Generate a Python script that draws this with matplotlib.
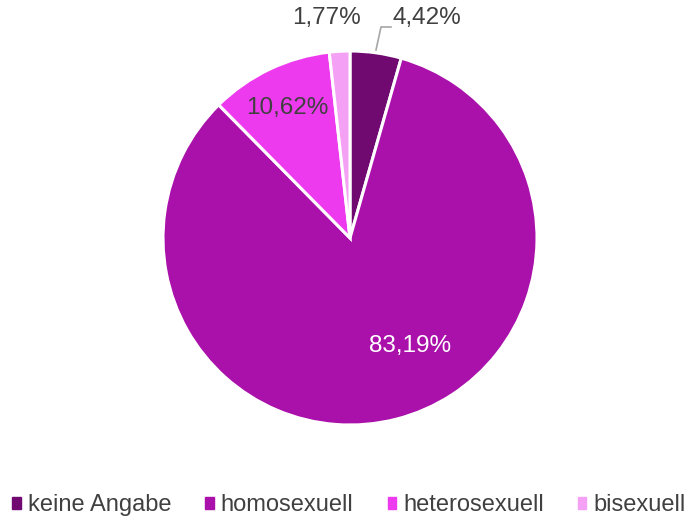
import matplotlib.pyplot as plt
import numpy as np

categories = ['keine Angabe', 'homosexuell', 'heterosexuell', 'bisexuell']
values = [4.42, 83.19, 10.62, 1.77]
colors = ['#700A70', '#AA10AA', '#EE3AEE', '#F4A0F4']
labels = ['4,42%', '83,19%', '10,62%', '1,77%']

plt.rcParams['font.family'] = ['Liberation Sans', 'DejaVu Sans']

W, H = 698, 521
fig = plt.figure(figsize=(W / 100, H / 100), dpi=100)
ax = fig.add_axes([0, 0, 1, 1])

def px(x, y):
    # pixel coords from top-left -> data coords
    return x, H - y

wedges, _ = ax.pie(values, colors=colors, startangle=90, counterclock=False,
                   center=px(350, 238), radius=187,
                   wedgeprops=dict(edgecolor='white', linewidth=2.2))
ax.set_xlim(0, W)
ax.set_ylim(0, H)
ax.set_aspect('equal')
ax.axis('off')

# data labels
label_pos = [(427, 18), (410, 346), (287, 108), (327, 18)]
label_col = ['#404040', 'white', '#404040', '#404040']
for txt, (x, y), c in zip(labels, label_pos, label_col):
    ax.text(*px(x, y), txt, ha='center', va='center', fontsize=17.5, color=c)

# leader line for the small slice
lx, ly = zip(*[px(376, 50), px(381, 27), px(391, 27)])
ax.plot(lx, ly, color='#A6A6A6', lw=1.2)

handles = [plt.Rectangle((0, 0), 1, 1, color=c) for c in colors]
fig.legend(handles, categories, loc='lower center', ncol=4, frameon=False,
           fontsize=17, handlelength=0.35, handleheight=0.35, handletextpad=0.3,
           columnspacing=1.45, bbox_to_anchor=(0.5, -0.032), labelcolor='#404040')

fig.savefig('out.png', dpi=100)
